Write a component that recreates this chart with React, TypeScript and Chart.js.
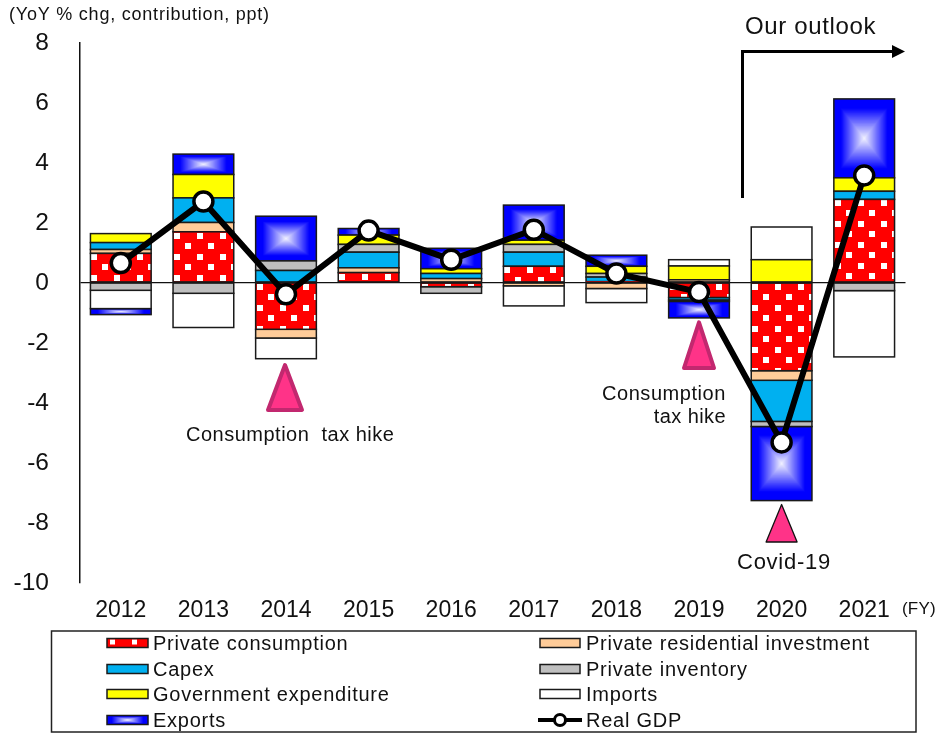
import React, { useEffect, useRef } from "react";
import { Chart, registerables } from "chart.js";

Chart.register(...registerables);

const FONT = '"Liberation Sans", Arial, sans-serif';

const years = ["2012", "2013", "2014", "2015", "2016", "2017", "2018", "2019", "2020", "2021"];
const consumption = [0.97, 1.69, -1.56, 0.33, -0.14, 0.54, 0.03, -0.5, -2.94, 2.77];
const residential = [0.13, 0.31, -0.29, 0.16, 0.13, -0.11, -0.2, 0.09, -0.32, 0];
const capex = [0.23, 0.82, 0.4, 0.52, 0.17, 0.47, 0.15, -0.08, -1.37, 0.27];
const inventory = [-0.26, -0.36, 0.32, 0.26, -0.22, 0.26, 0.12, -0.05, -0.17, -0.27];
const government = [0.3, 0.78, 0, 0.31, 0.16, 0.14, 0.24, 0.46, 0.76, 0.45];
const imports = [-0.61, -1.14, -0.69, 0, 0, -0.67, -0.47, 0.21, 1.09, -2.21];
const exportsData = [-0.2, 0.68, 1.49, 0.22, 0.68, 1.17, 0.37, -0.55, -2.47, 2.63];
const realGdp = [0.65, 2.7, -0.39, 1.73, 0.76, 1.76, 0.3, -0.32, -5.33, 3.57];
const yTicks = [8, 6, 4, 2, 0, -2, -4, -6, -8, -10];

const barSeries = [
  { label: "Private consumption", data: consumption, color: "#FF0000" },
  { label: "Private residential investment", data: residential, color: "#FFCC99" },
  { label: "Capex", data: capex, color: "#00B0F0" },
  { label: "Private inventory", data: inventory, color: "#BFBFBF" },
  { label: "Government expenditure", data: government, color: "#FFFF00" },
  { label: "Imports", data: imports, color: "#FFFFFF" },
  { label: "Exports", data: exportsData, color: "#0000FF" },
];
const gdpLabel = "Real GDP";

const EDGE = "#1a1a1a";

function dotPattern(ctx: CanvasRenderingContext2D) {
  const c = document.createElement("canvas");
  c.width = 23;
  c.height = 21;
  const g = c.getContext("2d")!;
  g.fillStyle = "#FF0000";
  g.fillRect(0, 0, 23, 21);
  g.fillStyle = "#FFFFFF";
  g.fillRect(0, 1, 6, 6);
  g.fillRect(11, 11, 6, 6);
  return ctx.createPattern(c, "repeat")!;
}

function fillGlow(ctx: CanvasRenderingContext2D, l: number, t: number, w: number, h: number) {
  const steps = 40;
  ctx.fillStyle = "#0000FF";
  ctx.fillRect(l, t, w, h);
  for (let i = 0; i <= steps; i++) {
    const f = 1 - i / steps;
    const scale = f * 0.78;
    const v = Math.round(255 * (1 - f) * 0.96);
    ctx.fillStyle = `rgb(${v},${v},255)`;
    const ww = w * scale;
    const hh = h * scale;
    ctx.fillRect(l + (w - ww) / 2, t + (h - hh) / 2, ww, hh);
  }
}

function fillDots(ctx: CanvasRenderingContext2D, l: number, t: number, w: number, h: number) {
  const p = dotPattern(ctx);
  p.setTransform(new DOMMatrix().translate(Math.round(l) + 1, Math.round(t)));
  ctx.fillStyle = p;
  ctx.fillRect(l, t, w, h);
}

const barPainter = {
  id: "barPainter",
  afterDatasetDraw(chart: any, args: any) {
    const ds = chart.data.datasets[args.index];
    if (ds.type !== "bar") return;
    const label = ds.label;
    const ctx: CanvasRenderingContext2D = chart.ctx;
    ctx.save();
    args.meta.data.forEach((el: any) => {
      const t = Math.min(el.y, el.base);
      const h = Math.abs(el.y - el.base);
      if (h < 0.5) return;
      const l = el.x - el.width / 2;
      if (label === "Exports") fillGlow(ctx, l, t, el.width, h);
      else if (label === "Private consumption") fillDots(ctx, l, t, el.width, h);
      else {
        ctx.fillStyle = ds.backgroundColor;
        ctx.fillRect(l, t, el.width, h);
      }
      ctx.strokeStyle = EDGE;
      ctx.lineWidth = 1.5;
      ctx.strokeRect(l, t, el.width, h);
    });
    ctx.restore();
  },
};

function triangle(
  ctx: CanvasRenderingContext2D,
  cx: number,
  tip: number,
  base: number,
  half: number,
  stroke: string,
  lw: number,
) {
  ctx.beginPath();
  ctx.moveTo(cx, tip);
  ctx.lineTo(cx + half, base);
  ctx.lineTo(cx - half, base);
  ctx.closePath();
  ctx.fillStyle = "#FF3388";
  ctx.fill();
  ctx.lineJoin = "round";
  ctx.lineWidth = lw;
  ctx.strokeStyle = stroke;
  ctx.stroke();
}

const notes = {
  id: "notes",
  afterDraw(chart: any) {
    const ctx: CanvasRenderingContext2D = chart.ctx;
    const xs = chart.scales.x;
    const ys = chart.scales.y;
    ctx.save();
    triangle(ctx, xs.getPixelForValue(2) - 1, ys.getPixelForValue(-2.75), ys.getPixelForValue(-4.25), 17, "#C2286F", 4);
    triangle(ctx, xs.getPixelForValue(7), ys.getPixelForValue(-1.33), ys.getPixelForValue(-2.85), 15, "#C2286F", 4);
    triangle(ctx, xs.getPixelForValue(8), ys.getPixelForValue(-7.4), ys.getPixelForValue(-8.65), 15.5, "#111111", 1.3);

    ctx.fillStyle = "#111111";
    ctx.textBaseline = "middle";
    const put = (s: string, x: number, y: number, size: number, align: CanvasTextAlign = "left", sp = 0) => {
      ctx.font = `${size}px ${FONT}`;
      ctx.textAlign = align;
      (ctx as any).letterSpacing = `${sp}px`;
      ctx.fillText(s, x, y);
    };
    put("(YoY % chg, contribution, ppt)", 9, 15, 18, "left", 0.78);
    put("Our outlook", 745, 27, 24, "left", 0.65);
    put("Consumption  tax hike", 186, 435, 20, "left", 0.5);
    put("Consumption", 602, 394, 20, "left", 0.55);
    put("tax hike", 726, 417, 20, "right", 0.4);
    put("Covid-19", 737, 563, 22, "left", 0.75);
    put("(FY)", 902, 609, 17, "left", 0.2);

    // outlook arrow
    ctx.strokeStyle = "#000000";
    ctx.lineWidth = 3;
    ctx.lineJoin = "miter";
    ctx.beginPath();
    ctx.moveTo(742.5, 198);
    ctx.lineTo(742.5, 51.5);
    ctx.lineTo(895, 51.5);
    ctx.stroke();
    ctx.fillStyle = "#000000";
    ctx.beginPath();
    ctx.moveTo(905, 51.5);
    ctx.lineTo(892, 45);
    ctx.lineTo(892, 58);
    ctx.closePath();
    ctx.fill();

    // legend box
    ctx.strokeStyle = "#222222";
    ctx.lineWidth = 1.5;
    ctx.strokeRect(51.5, 631, 864.5, 101);

    const rows = [643, 669, 694, 720];
    barSeries.forEach((s, i) => {
      const col = i % 2;
      const y = rows[Math.floor(i / 2)];
      const sx = col === 0 ? 107 : 540;
      const sw = col === 0 ? 41 : 40;
      const st = y - 4.5;
      if (s.label === "Exports") fillGlow(ctx, sx, st, sw, 9);
      else if (s.label === "Private consumption") {
        ctx.fillStyle = "#FF0000";
        ctx.fillRect(sx, st, sw, 9);
        ctx.fillStyle = "#FFFFFF";
        ctx.fillRect(sx + 3, st + 1, 5, 5);
        ctx.fillRect(sx + 25, st + 1, 5, 5);
      } else {
        ctx.fillStyle = s.color;
        ctx.fillRect(sx, st, sw, 9);
      }
      ctx.strokeStyle = EDGE;
      ctx.lineWidth = 1.5;
      ctx.strokeRect(sx, st, sw, 9);
      ctx.fillStyle = "#111111";
      put(s.label, col === 0 ? 153 : 586, y + 1, 20, "left", 0.75);
    });
    const gy = rows[3];
    ctx.strokeStyle = "#000000";
    ctx.lineWidth = 4;
    ctx.beginPath();
    ctx.moveTo(538, gy);
    ctx.lineTo(582, gy);
    ctx.stroke();
    ctx.beginPath();
    ctx.arc(560, gy, 5.5, 0, Math.PI * 2);
    ctx.fillStyle = "#FFFFFF";
    ctx.fill();
    ctx.lineWidth = 3;
    ctx.stroke();
    ctx.fillStyle = "#111111";
    put(gdpLabel, 586, gy + 1, 20, "left", 0.75);
    ctx.restore();
  },
};

export default function App() {
  const ref = useRef<HTMLCanvasElement>(null);
  useEffect(() => {
    const chart = new Chart(ref.current!, {
      type: "bar",
      data: {
        labels: years,
        datasets: [
          {
            type: "line",
            label: gdpLabel,
            data: realGdp,
            order: 0,
            borderColor: "#000000",
            borderWidth: 6,
            tension: 0,
            pointRadius: 9.5,
            pointBackgroundColor: "#FFFFFF",
            pointBorderColor: "#000000",
            pointBorderWidth: 3.5,
          },
          ...barSeries.map((s) => ({
            type: "bar",
            label: s.label,
            data: s.data,
            order: 1,
            backgroundColor: s.color,
            borderWidth: 0,
            inflateAmount: 0,
            barPercentage: 0.735,
            categoryPercentage: 1,
          })),
        ] as any,
      },
      options: {
        responsive: false,
        animation: false,
        layout: { padding: { left: 0, right: 32.5, top: 42.5, bottom: 0 } },
        plugins: { legend: { display: false }, tooltip: { enabled: false }, title: { display: false } },
        scales: {
          x: {
            stacked: true,
            grid: { display: false },
            border: { display: false },
            ticks: { color: "#111111", font: { family: FONT, size: 23 }, padding: 6, maxRotation: 0, autoSkip: false },
            afterFit: (s: any) => {
              s.height = 150.5;
            },
          },
          y: {
            stacked: true,
            min: -10,
            max: 8,
            afterBuildTicks: (s: any) => {
              s.ticks = yTicks.map((value) => ({ value }));
            },
            border: { display: true, color: "#111111", width: 1.5 },
            grid: {
              drawTicks: false,
              lineWidth: 1.2,
              color: (c: any) => (c.tick && c.tick.value === 0 ? "#111111" : "rgba(0,0,0,0)"),
            },
            ticks: { color: "#111111", font: { family: FONT, size: 24.5 }, padding: 30.5, labelOffset: 1 },
            afterFit: (s: any) => {
              s.width = 79.5;
              s.paddingTop = 0;
              s.paddingBottom = 0;
            },
          },
        },
      },
      plugins: [barPainter, notes],
    } as any);
    return () => chart.destroy();
  }, []);
  return (
    <div style={{ position: "fixed", left: 0, top: 0, width: 938, height: 733, background: "#fff" }}>
      <canvas ref={ref} width={938} height={733} style={{ display: "block" }} />
    </div>
  );
}
